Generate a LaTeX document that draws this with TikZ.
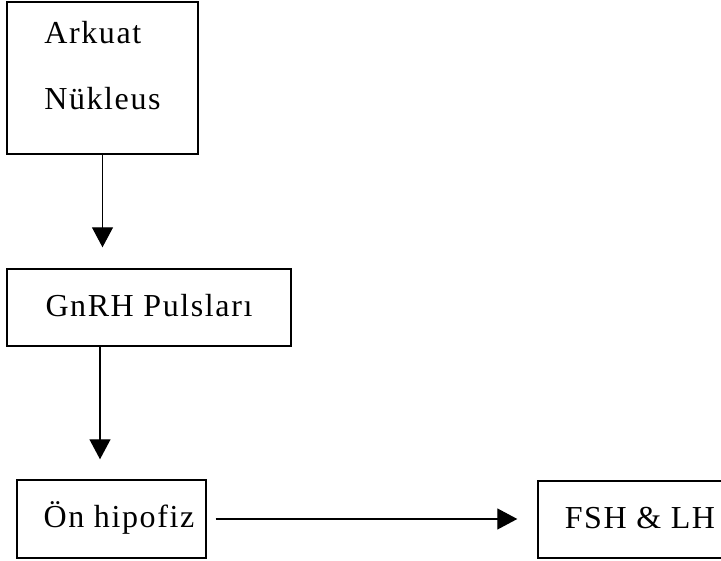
\documentclass[tikz,border=0pt]{standalone}
\usepackage{fontspec}
\setmainfont{Liberation Serif}[LetterSpace=5]
\usepackage{tikz}
\usetikzlibrary{arrows.meta}

\begin{document}
\begin{tikzpicture}[x=1pt, y=1pt,
  kutu/.style={draw, line width=1.4pt, inner sep=0pt, text height=20pt, text depth=2pt,
    font=\fontsize{32pt}{66pt}\selectfont},
  ok/.style={-{Triangle[length=20pt, width=21pt]}, line width=1.2pt}]
\useasboundingbox (0, 0) rectangle (721, 561);
\node[kutu, minimum width=191pt, minimum height=152pt, align=left,
  text height=70pt, text depth=6pt] at (102.5, 483) (arkuat) {Arkuat\\Nükleus};
\node[kutu, minimum width=284pt, minimum height=77pt] at (149, 253.5) (gnrh) {GnRH Pulsları};
\node[kutu, minimum width=189pt, minimum height=78pt] at (111.5, 42) (on) {\hspace*{15pt}Ön hipofiz};
\node[kutu, minimum width=204pt, minimum height=77pt] at (640, 41.5) (fsh) {FSH \& LH};
\draw[ok] (arkuat.south) -- ([yshift=21pt]arkuat.south |- gnrh.north);
\draw[ok] ([xshift=-2.5pt]gnrh.south -| arkuat.south) -- ([xshift=-2.5pt, yshift=20pt]on.north -| arkuat.south);
\draw[ok, shorten <=9pt, shorten >=20pt] (on.east) -- (on.east -| fsh.west);
\end{tikzpicture}
\end{document}
